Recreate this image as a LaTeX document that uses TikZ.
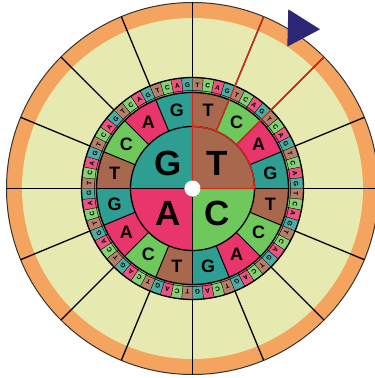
\documentclass[tikz,border=0pt]{standalone}
\usepackage{fontspec}
\setsansfont{Liberation Sans}
\usepackage{tikz}
\definecolor{BaseT}{HTML}{A8684E}
\definecolor{BaseC}{HTML}{6FC85B}
\definecolor{BaseA}{HTML}{E8356B}
\definecolor{BaseG}{HTML}{2E9E93}
\definecolor{WheelRim}{HTML}{F4A45E}
\definecolor{WheelCell}{HTML}{E6E9B0}
\definecolor{WheelMark}{HTML}{D62A1E}
\definecolor{WheelArrow}{HTML}{2C2875}

\begin{document}
\begin{tikzpicture}[x=1pt,y=1pt,
  bigbase/.style={font=\sffamily\bfseries\fontsize{35}{35}\selectfont,inner sep=0pt},
  midbase/.style={font=\sffamily\bfseries\fontsize{18}{18}\selectfont,inner sep=0pt},
  tinybase/.style={font=\sffamily\bfseries\fontsize{6.5}{6.5}\selectfont,inner sep=0pt}]
\useasboundingbox (-192.5,-189.5) rectangle (182.5,188.5);
\clip (-192.5,-189.5) rectangle (182.5,188.5);
% rim and blank outer cells
\fill[WheelRim] (0,0) circle (186);
\fill[WheelCell] (0,0) circle (170.5);
\draw[line width=1pt,black!80] (0,0) circle (186);
\foreach \k in {0,...,15} \draw[line width=1.3pt] (90-22.5*\k:111) -- (90-22.5*\k:186);
% third letter ring
\foreach \j in {0,...,15} \foreach \b [count=\i from 0] in {T,C,A,G} {
  \pgfmathsetmacro\a{90-22.5*\j-5.625*\i}
  \pgfmathsetmacro\m{\a-2.8125}
  \fill[Base\b!85,draw=black,line width=0.3pt] (\a:96) -- (\a:111) arc[start angle=\a,end angle=\a-5.625,radius=111] -- (\a-5.625:96) arc[start angle=\a-5.625,end angle=\a,radius=96] -- cycle;
  \node[tinybase,rotate=\m-90] (tiny-\j\b) at (\m:103.5) {\b};
}
% second letter ring
\foreach \q in {0,...,3} \foreach \b [count=\i from 0] in {T,C,A,G} {
  \pgfmathsetmacro\a{90-90*\q-22.5*\i}
  \fill[Base\b] (\a:62) -- (\a:96) arc[start angle=\a,end angle=\a-22.5,radius=96] -- (\a-22.5:62) arc[start angle=\a-22.5,end angle=\a,radius=62] -- cycle;
  \draw[line width=1pt] (\a:62) -- (\a:96);
  \node[midbase] (cell-\q\b) at (\a-11.25:79.5) {\b};
}
% first letter quadrants
\foreach \b [count=\q from 0] in {T,C,A,G} {
  \fill[Base\b] (0,0) -- (90-90*\q:62) arc[start angle=90-90*\q,end angle=-90*\q,radius=62] -- cycle;
  \node[bigbase] (big-\b) at (45-90*\q:35) {\b};
}
\draw[line width=0.8pt] (180:8) -- (180:62) (270:8) -- (270:62);
\draw[line width=1.3pt] (0,0) circle (62) circle (96) circle (111);
\draw[line width=0.5pt] (0,0) circle (98);
\fill[white] (0,0) circle (8);
% highlighted reading
\draw[WheelMark,line width=1.3pt] (90:96) -- (90:8) (0:8) -- (0:62) arc[start angle=0,end angle=90,radius=62];
\draw[WheelMark,line width=1.3pt] (67.5:62) -- (67.5:186) (45:62) -- (45:186);
\fill[WheelArrow] (95.8,179.2) -- (127.5,159.2) -- (94.8,141.8) -- cycle;
\end{tikzpicture}
\end{document}
